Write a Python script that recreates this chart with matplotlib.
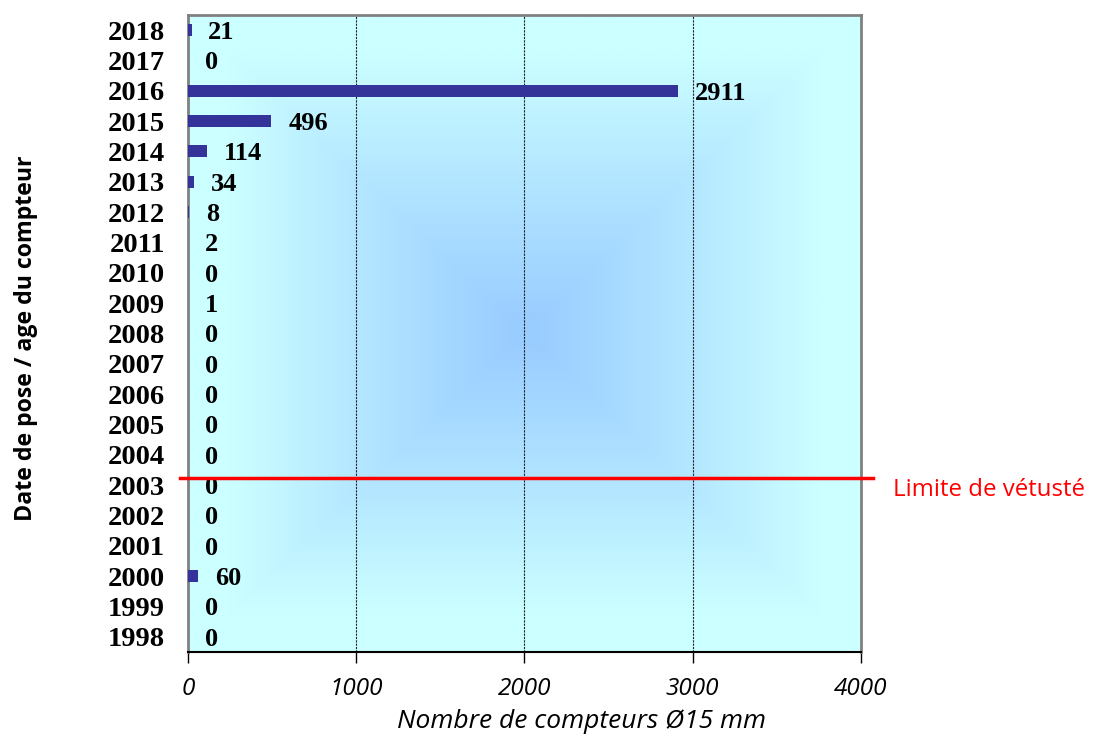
# compteurs_age.py - Répartition des compteurs Ø15 mm par date de pose

import numpy as np
import matplotlib.pyplot as plt
from matplotlib.colors import to_rgb

OUTPUT = "out.png"

# Data
annees = [2018, 2017, 2016, 2015, 2014, 2013, 2012, 2011, 2010, 2009, 2008,
          2007, 2006, 2005, 2004, 2003, 2002, 2001, 2000, 1999, 1998]
compteurs = [21, 0, 2911, 496, 114, 34, 8, 2, 0, 1, 0,
             0, 0, 0, 0, 0, 0, 0, 60, 0, 0]
x_ticks = [0, 1000, 2000, 3000, 4000]
limite_vetuste = 2003.25


def gradient_background(ax):
    # Excel-like "from center" rectangular gradient
    n = 400
    u = np.linspace(-1, 1, n)
    uu, vv = np.meshgrid(u, u)
    t = np.clip(np.maximum(np.abs(uu), np.abs(vv)) / 0.88, 0, 1) ** 1.1
    c0 = np.array(to_rgb("#99CCFF"))
    c1 = np.array(to_rgb("#CCFFFF"))
    img = c0[None, None, :] * (1 - t[..., None]) + c1[None, None, :] * t[..., None]
    ax.imshow(img, extent=[0, 1, 0, 1], transform=ax.transAxes,
              aspect="auto", zorder=0, interpolation="bilinear")


def plot_chart():
    fig = plt.figure(figsize=(10.93, 7.35), dpi=100)
    ax = fig.add_axes([0.172, 0.113, 0.6157, 0.8667])

    gradient_background(ax)

    ax.barh(annees, compteurs, height=0.4, color="#333399", zorder=3)

    for y, v in zip(annees, compteurs):
        ax.text(v + 100, y, str(v), ha="left", va="center_baseline",
                fontsize=19, fontweight="bold", family="Liberation Serif", zorder=4)

    ax.set_xlim(0, 4000)
    ax.set_ylim(1997.5, 2018.5)
    ax.set_xticks(x_ticks)
    ax.set_xticklabels([str(t) for t in x_ticks], fontsize=17.5, fontstyle="italic",
                       family="Open Sans")
    ax.set_yticks(annees)
    ax.set_yticklabels([str(a) for a in annees], fontsize=20.5, fontweight="bold",
                       family="Liberation Serif", va="center_baseline")
    ax.tick_params(axis="y", length=0, pad=16.5)
    ax.tick_params(axis="x", length=8, width=1, direction="out", pad=10, color="black")

    # grid
    for xv in x_ticks[1:-1]:
        ax.axvline(xv, color="#222222", linestyle=(0, (2, 1)), linewidth=0.8, zorder=2)

    for s in ["left", "top", "right"]:
        ax.spines[s].set_color("#808080")
        ax.spines[s].set_linewidth(2)
    ax.spines["bottom"].set_color("black")
    ax.spines["bottom"].set_linewidth(1.5)

    # limite de vétusté
    ax.plot([-0.012, 1.018], [limite_vetuste, limite_vetuste], color="#FF0000",
            linewidth=2.5, transform=ax.get_yaxis_transform(), clip_on=False, zorder=5)
    ax.text(1.048, limite_vetuste - 0.4, "Limite de vétusté", color="#FF0000",
            fontsize=17.3, family="Open Sans", ha="left", va="center",
            transform=ax.get_yaxis_transform())

    ax.set_xlabel("Nombre de compteurs Ø15 mm", fontsize=19, fontstyle="italic",
                  family="Open Sans", labelpad=6)
    ax.xaxis.label.set_x(0.584)
    fig.text(0.024, 0.54, "Date de pose / age du compteur", rotation=90,
             fontsize=16.7, fontweight="bold", family="Open Sans",
             ha="center", va="center")

    fig.savefig(OUTPUT, dpi=100)


if __name__ == "__main__":
    plot_chart()
